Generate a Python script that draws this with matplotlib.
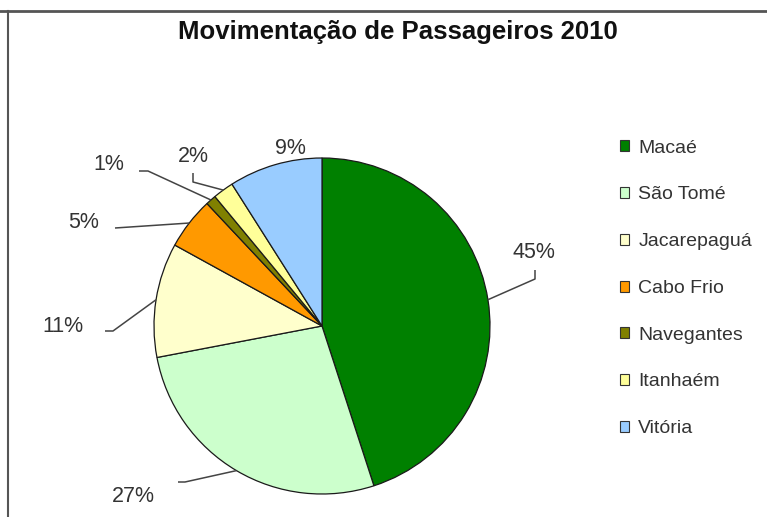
import matplotlib
matplotlib.use("Agg")
import matplotlib.pyplot as plt
import numpy as np
from matplotlib.lines import Line2D
from matplotlib.patches import Patch

plt.rcParams['font.family'] = ['Liberation Sans', 'DejaVu Sans']

# data
airports = ["Macaé", "São Tomé", "Jacarepaguá", "Cabo Frio",
            "Navegantes", "Itanhaém", "Vitória"]
shares = [45, 27, 11, 5, 1, 2, 9]
colors = ["#008000", "#ccffcc", "#ffffcc", "#ff9900",
          "#808000", "#ffff99", "#99ccff"]

W, H = 767, 517

# label layout in image pixels: (elbow points..., text position)
label_layout = [
    ([(535, 279), (535, 270)], (534, 253)),
    ([(185, 482), (178, 482)], (133, 496)),
    ([(113, 331), (105, 331)], (63, 327)),
    ([(115, 228)], (84, 223)),
    ([(148, 171), (139, 171)], (109, 165)),
    ([(193, 182), (193, 173)], (193, 157)),
    ([], (290, 149)),
]


def px(x, y):
    """Image pixel (top-left origin) to axis coords."""
    return x, H - y


fig = plt.figure(figsize=(W / 100, H / 100), dpi=100)
ax = fig.add_axes([0, 0, 1, 1])

cx, cy = px(322, 326)
radius = 168
wedges, _ = ax.pie(shares, colors=colors, startangle=90, counterclock=False,
                   center=(cx, cy), radius=radius,
                   wedgeprops=dict(edgecolor="#1a1a1a", linewidth=0.9))

ax.set_xlim(0, W)
ax.set_ylim(0, H)
ax.set_aspect("equal")
ax.axis("off")

for wedge, share, (elbows, text_pos) in zip(wedges, shares, label_layout):
    mid = np.deg2rad((wedge.theta1 + wedge.theta2) / 2)
    anchor = (cx + radius * np.cos(mid), cy + radius * np.sin(mid))
    if elbows:
        pts = [anchor] + [px(*p) for p in elbows]
        xs, ys = zip(*pts)
        ax.plot(xs, ys, color="#444444", lw=1.1, solid_capstyle="butt")
    ax.text(*px(*text_pos), f"{share}%", fontsize=15.5, color="#333333",
            ha="center", va="center")

ax.text(*px(398, 32), "Movimentação de Passageiros 2010", fontsize=18.5,
        fontweight="bold", ha="center", va="center", color="#111111")

handles = [Patch(facecolor=c, edgecolor="#333333", linewidth=0.8) for c in colors]
ax.legend(handles, airports, loc="upper left", frameon=False,
          bbox_to_anchor=(610 / W, 1 - 130 / H), bbox_transform=fig.transFigure,
          fontsize=14, handlelength=0.5, handleheight=0.5,
          handletextpad=0.45, labelspacing=1.53, borderpad=0,
          labelcolor="#333333")

# chart frame (top and left edges visible)
fig.add_artist(Line2D([0, 1], [1 - 11 / H] * 2, transform=fig.transFigure,
                      color="#555555", lw=2))
fig.add_artist(Line2D([7.5 / W] * 2, [0, 1 - 11 / H], transform=fig.transFigure,
                      color="#555555", lw=1.5))

fig.savefig("out.png", dpi=100)
